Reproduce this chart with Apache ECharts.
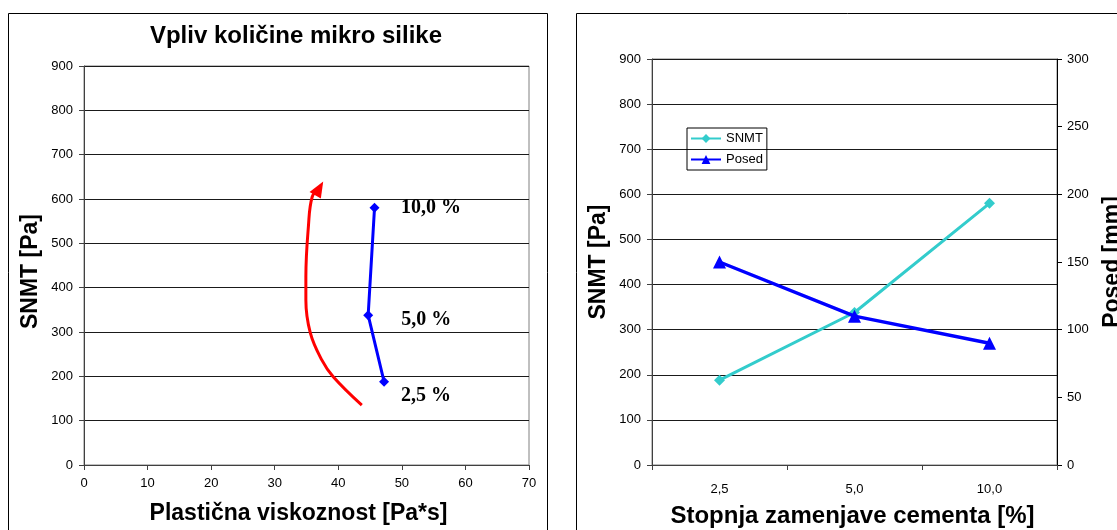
<!DOCTYPE html>
<html><head><meta charset="utf-8">
<script src="https://cdn.jsdelivr.net/npm/echarts@6/dist/echarts.min.js"></script>
<style>html,body{margin:0;padding:0;background:#fff}#c{width:1117px;height:530px}</style>
</head><body><div id="c"></div>
<script>
// ---- data ----
const chartTitle = 'Vpliv količine mikro silike';
const leftXName = 'Plastična viskoznost [Pa*s]';
const snmtName = 'SNMT [Pa]';
const rightXName = 'Stopnja zamenjave cementa [%]';
const posedName = 'Posed [mm]';
const replacementLabels = ['2,5 %', '5,0 %', '10,0 %'];
const viscosity = [47.2, 44.7, 45.7];
const snmt = [188, 338, 580];
const categories = ['2,5', '5,0', '10,0'];
const posed = [150, 110, 90];
const arrowX = [43.7, 39.2, 37.4, 35.6, 34.9, 34.9, 35.3, 35.9, 37.0];
const arrowY = [135, 199, 237, 298, 372, 424, 538, 605, 624];

// ---- styles ----
const SANS = "'Liberation Sans', Arial, sans-serif";
const SERIF = "'Liberation Serif', 'Times New Roman', serif";
const labelNudges = [[7, 14], [23, 5], [16.5, 0]];
const axisCol = '#404040';
const gridCol = '#1a1a1a';

const chart = echarts.init(document.getElementById('c'), null, {renderer: 'canvas'});

const nameStyle = {fontFamily: SANS, fontWeight: 'bold', fontSize: 23, color: '#000'};
const tickLabel = {fontFamily: SANS, fontSize: 13, color: '#000'};

function valueY(gridIndex, pad) {
  return {
    gridIndex, type: 'value', min: 0, max: 900, interval: 100,
    axisLine: {show: true, onZero: false, lineStyle: {color: axisCol, width: 1}},
    axisTick: {show: true, length: 5, lineStyle: {color: axisCol}},
    axisLabel: Object.assign({margin: 11}, tickLabel),
    splitLine: {show: true, lineStyle: {color: gridCol, width: 1}},
    name: snmtName, nameLocation: 'middle', nameRotate: 90, nameGap: 42,
    nameTextStyle: Object.assign({padding: pad}, nameStyle)
  };
}

const option = {
  animation: false,
  backgroundColor: '#fff',
  title: {
    text: chartTitle, left: 291, top: 19, textAlign: 'center',
    textStyle: {fontFamily: SANS, fontWeight: 'bold', fontSize: 24, color: '#000'}
  },
  legend: {
    orient: 'vertical', left: 687, top: 128,
    data: ['SNMT', 'Posed'],
    itemWidth: 30, itemHeight: 11, itemGap: 8,
    padding: [4, 4, 4, 3],
    borderColor: '#000', borderWidth: 1, borderRadius: 0,
    textStyle: {fontFamily: SANS, fontSize: 13, color: '#000'}
  },
  graphic: [
    {type: 'rect', shape: {x: 8.5, y: 13.5, width: 539, height: 540},
     style: {fill: 'none', stroke: '#000', lineWidth: 1}, silent: true},
    {type: 'rect', shape: {x: 576.5, y: 13.5, width: 560, height: 540},
     style: {fill: 'none', stroke: '#000', lineWidth: 1}, silent: true}
  ],
  grid: [
    {left: 84, top: 66, width: 445, height: 399, show: true, borderColor: '#808080', borderWidth: 1,
     backgroundColor: '#fff', containLabel: false, outerBoundsMode: 'none'},
    {left: 652, top: 59, width: 405, height: 406, show: true, borderColor: '#808080', borderWidth: 1,
     backgroundColor: '#fff', containLabel: false, outerBoundsMode: 'none'}
  ],
  xAxis: [
    {
      gridIndex: 0, type: 'value', min: 0, max: 70, interval: 10,
      axisLine: {show: true, onZero: false, lineStyle: {color: axisCol}},
      axisTick: {show: true, length: 5, lineStyle: {color: axisCol}},
      axisLabel: Object.assign({margin: 12}, tickLabel),
      splitLine: {show: false},
      name: leftXName, nameLocation: 'middle', nameGap: 37,
      nameTextStyle: Object.assign({}, nameStyle, {padding: [0, 16, 0, 0]})
    },
    {
      gridIndex: 1, type: 'category', data: categories, boundaryGap: true,
      axisLine: {show: true, onZero: false, lineStyle: {color: axisCol}},
      axisTick: {show: true, length: 5, alignWithLabel: false, lineStyle: {color: axisCol}},
      axisLabel: Object.assign({margin: 18, interval: 0}, tickLabel),
      splitLine: {show: false},
      name: rightXName, nameLocation: 'middle', nameGap: 39,
      nameTextStyle: Object.assign({}, nameStyle, {fontSize: 24, padding: [0, 4, 0, 0]})
    }
  ],
  yAxis: [
    valueY(0, [0, 12, 0, 0]),
    valueY(1, [0, 0, 0, 0]),
    {
      gridIndex: 1, type: 'value', position: 'right', min: 0, max: 300, interval: 50,
      axisLine: {show: true, onZero: false, lineStyle: {color: '#000'}},
      axisTick: {show: true, length: 5, lineStyle: {color: '#000'}},
      axisLabel: Object.assign({margin: 10}, tickLabel),
      splitLine: {show: false},
      name: posedName, nameLocation: 'middle', nameRotate: 90, nameGap: 44,
      nameTextStyle: nameStyle
    }
  ],
  series: [
    {
      name: 'arrow', type: 'line', xAxisIndex: 0, yAxisIndex: 0,
      smooth: 0.4, silent: true, z: 1,
      lineStyle: {color: '#ff0000', width: 3},
      itemStyle: {color: '#ff0000'},
      data: arrowX.map((x, i) => {
        const last = i === arrowX.length - 1;
        return {
          value: [x, arrowY[i]],
          symbol: last ? 'triangle' : 'none',
          symbolSize: last ? [13, 16] : 0,
          symbolRotate: last ? -30 : 0
        };
      })
    },
    {
      name: 'SNMT-viskoznost', type: 'line', xAxisIndex: 0, yAxisIndex: 0, z: 3,
      symbol: 'diamond', symbolSize: 10,
      lineStyle: {color: '#0000ff', width: 3},
      itemStyle: {color: '#0000ff'},
      label: {
        show: true, position: 'right', distance: 5,
        fontFamily: SERIF, fontWeight: 'bold', fontSize: 20, color: '#000',
        formatter: p => replacementLabels[p.dataIndex]
      },
      data: viscosity.map((v, i) => ({value: [v, snmt[i]], label: {offset: labelNudges[i]}}))
    },
    {
      name: 'SNMT', type: 'line', xAxisIndex: 1, yAxisIndex: 1, z: 3,
      symbol: 'diamond', symbolSize: 11,
      lineStyle: {color: '#33cccc', width: 3},
      itemStyle: {color: '#33cccc'},
      data: snmt
    },
    {
      name: 'Posed', type: 'line', xAxisIndex: 1, yAxisIndex: 2, z: 4,
      symbol: 'triangle', symbolSize: 13,
      lineStyle: {color: '#0000ff', width: 3.5},
      itemStyle: {color: '#0000ff'},
      data: posed
    }
  ]
};
chart.setOption(option);
</script>
</body></html>
